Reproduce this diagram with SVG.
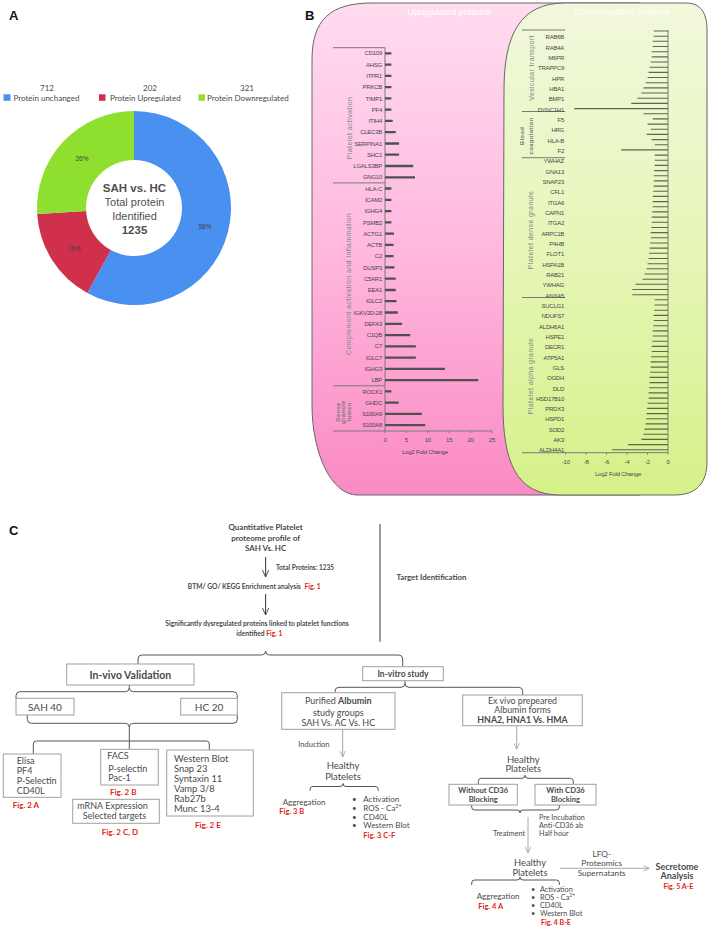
<svg xmlns="http://www.w3.org/2000/svg" width="709" height="928" viewBox="0 0 709 928">
<defs>
<linearGradient id="pinkG" x1="0" y1="0" x2="0" y2="1">
<stop offset="0" stop-color="#ffdcf0"/><stop offset="0.5" stop-color="#ffb8de"/><stop offset="1" stop-color="#fa8ac3"/>
</linearGradient>
<linearGradient id="greenG" x1="0" y1="0" x2="0" y2="1">
<stop offset="0" stop-color="#f1f8dc"/><stop offset="0.5" stop-color="#e6f6b8"/><stop offset="1" stop-color="#d5f188"/>
</linearGradient>
<marker id="ahD" viewBox="0 0 10 10" refX="10" refY="5" markerWidth="7" markerHeight="7" orient="auto" markerUnits="userSpaceOnUse">
<path d="M0,0.5 L10,5 L0,9.5" fill="none" stroke="#444" stroke-width="1.3"/>
</marker>
<marker id="ahL" viewBox="0 0 10 10" refX="10" refY="5" markerWidth="6" markerHeight="6" orient="auto" markerUnits="userSpaceOnUse">
<path d="M0,0.5 L10,5 L0,9.5" fill="none" stroke="#a0a0a0" stroke-width="1.3"/>
</marker>
<style>
.pl{font-family:"Liberation Sans",Arial,sans-serif;font-size:13px;font-weight:bold;fill:#111}
.leg{font-family:Lato,"Liberation Sans",sans-serif;font-size:8px;fill:#4a4a4a}
.pct{font-family:"Liberation Sans",sans-serif;font-size:6.5px;fill:#444;text-anchor:middle}
.ctr{font-family:"Liberation Sans",sans-serif;fill:#505050;text-anchor:middle}
.lbl{font-family:"Liberation Sans",sans-serif;font-size:6px;fill:#474747;text-anchor:end;letter-spacing:-0.25px}
.tick{font-family:"Liberation Sans",sans-serif;font-size:6px;fill:#474747;text-anchor:middle;letter-spacing:-0.2px}
.grp{font-family:"Liberation Sans",sans-serif;font-size:7px;fill:#858585;text-anchor:middle;letter-spacing:0.4px}
.grpb{font-family:"Liberation Sans",sans-serif;font-size:6px;font-weight:bold;fill:#7a7a7a;text-anchor:middle;letter-spacing:0.3px}
.ax{stroke:#7a7a7a;stroke-width:1;fill:none}
.ttl{font-family:"Liberation Sans",sans-serif;font-size:9px;fill:#ffffff;text-anchor:middle}
.c{font-family:Lato,"Liberation Sans",sans-serif;fill:#4a4a4a}
.b{font-weight:bold}
.m{text-anchor:middle}
.e{text-anchor:end}
.fig{fill:#e32320;font-weight:bold}
.box{fill:#fff;stroke:#a0a0a0;stroke-width:1}
.br{fill:none;stroke:#555;stroke-width:1}
.arD{fill:none;stroke:#444;stroke-width:1.1}
.arL{fill:none;stroke:#a8a8a8;stroke-width:1}
</style>
</defs>
<rect width="709" height="928" fill="#fff"/>

<!-- Panel A -->
<g id="panelA">
<text class="pl" x="9" y="20">A</text>
<g id="legend">
<text class="leg m" x="47" y="91">712</text>
<rect x="3.5" y="94.3" width="7" height="6.5" fill="#4a90f0"/>
<text class="leg" x="13.5" y="101">Protein unchanged</text>
<text class="leg m" x="150" y="91">202</text>
<rect x="99" y="94.3" width="6.5" height="6.5" fill="#d0304c"/>
<text class="leg" x="110" y="101">Protein Upregulated</text>
<text class="leg m" x="247" y="91">321</text>
<rect x="198.5" y="94.3" width="6.5" height="6.5" fill="#8fe02e"/>
<text class="leg" x="207" y="101">Protein Downregulated</text>
</g>
<g id="donut">
<path d="M134,111 A97,97 0 1,1 87.27,293 L110.87,250.06 A48,48 0 1,0 134,160 Z" fill="#4a90f0"/>
<path d="M87.27,293 A97,97 0 0,1 37.19,214.09 L86.09,211.01 A48,48 0 0,0 110.87,250.06 Z" fill="#d0304c"/>
<path d="M37.19,214.09 A97,97 0 0,1 134,111 L134,160 A48,48 0 0,0 86.09,211.01 Z" fill="#8fe02e"/>
<text class="pct" x="205" y="228.5">58%</text>
<text class="pct" x="74" y="250.5">16%</text>
<text class="pct" x="82" y="161">26%</text>
<text class="ctr" x="134.5" y="191.5" font-size="11.5" font-weight="bold">SAH vs. HC</text>
<text class="ctr" x="134.5" y="205.5" font-size="11">Total protein</text>
<text class="ctr" x="134.5" y="219.5" font-size="11">Identified</text>
<text class="ctr" x="134.5" y="233.5" font-size="11.5" font-weight="bold">1235</text>
</g>
</g>

<!-- Panel B -->
<g id="panelB">
<text class="pl" x="305" y="20">B</text>
<path id="pinkPanel" d="M312,60 C312,20 330,3 372,3 H640 V495 H357 A45,90 0 0 1 312,405 Z" fill="url(#pinkG)" stroke="#666" stroke-width="1"/>
<text class="ttl" x="449" y="15">Upregulated proteins</text>
<path id="greenPanel" d="M504,90 C504,35 520,3 565,3 H686 C700,3 707,12 707,30 V462 C707,482 697,495 675,495 H560 C515,495 503,460 503,405 Z" fill="url(#greenG)" stroke="#666" stroke-width="1"/>
<text class="ttl" x="622" y="15">Downregulated proteins</text>

<g id="upChart">
<path class="ax" d="M385,47.7V431 M333,47.7H385 M333,182.9H385 M333,385.8H385 M333,431H492 M385,431v2 M406.4,431v2 M427.8,431v2 M449.2,431v2 M470.6,431v2 M492,431v2"/>
<path fill="none" stroke="#505050" stroke-width="2.3" d="M385,53.3H391.4M385,64.6H391.4M385,75.8H391.4M385,87.1H391.4M385,98.4H391.4M385,109.7H391.4M385,120.9H392.7M385,132.2H395.7M385,143.5H399.1M385,154.7H399.1M385,166H413.2M385,177.3H415M385,188.5H391.4M385,199.8H391.4M385,211.1H391.4M385,222.4H391.4M385,233.6H394M385,244.9H393.6M385,256.2H393.6M385,267.4H394.4M385,278.7H395.7M385,290H395.7M385,301.2H396.6M385,312.5H397.8M385,323.8H402.1M385,335.1H410.3M385,346.3H415.8M385,357.6H415.8M385,368.9H444.9M385,380.1H478.3M385,391.4H391.4M385,402.7H398.7M385,413.9H421.8M385,425.2H425.2"/>
<text class="lbl" x="382" y="55.4">CD109</text>
<text class="lbl" x="382" y="66.7">AHSG</text>
<text class="lbl" x="382" y="77.9">ITPR1</text>
<text class="lbl" x="382" y="89.2">PRKCB</text>
<text class="lbl" x="382" y="100.5">TIMP1</text>
<text class="lbl" x="382" y="111.8">PF4</text>
<text class="lbl" x="382" y="123">ITIH4</text>
<text class="lbl" x="382" y="134.3">CLEC3B</text>
<text class="lbl" x="382" y="145.6">SERPINA1</text>
<text class="lbl" x="382" y="156.8">SHC1</text>
<text class="lbl" x="382" y="168.1">LGALS3BP</text>
<text class="lbl" x="382" y="179.4">GNG10</text>
<text class="lbl" x="382" y="190.6">HLA-C</text>
<text class="lbl" x="382" y="201.9">ICAM2</text>
<text class="lbl" x="382" y="213.2">IGHG4</text>
<text class="lbl" x="382" y="224.5">PSMB2</text>
<text class="lbl" x="382" y="235.7">ACTG1</text>
<text class="lbl" x="382" y="247">ACTB</text>
<text class="lbl" x="382" y="258.3">C2</text>
<text class="lbl" x="382" y="269.5">DUSP3</text>
<text class="lbl" x="382" y="280.8">C5AR1</text>
<text class="lbl" x="382" y="292.1">EEA1</text>
<text class="lbl" x="382" y="303.3">IGLC2</text>
<text class="lbl" x="382" y="314.6">IGKV2D-28</text>
<text class="lbl" x="382" y="325.9">DEFA3</text>
<text class="lbl" x="382" y="337.2">C1QB</text>
<text class="lbl" x="382" y="348.4">C7</text>
<text class="lbl" x="382" y="359.7">IGLC7</text>
<text class="lbl" x="382" y="371">IGHG3</text>
<text class="lbl" x="382" y="382.2">LBP</text>
<text class="lbl" x="382" y="393.5">ROCK1</text>
<text class="lbl" x="382" y="404.8">GHDC</text>
<text class="lbl" x="382" y="416">S100A9</text>
<text class="lbl" x="382" y="427.3">S100A8</text>
<text class="grp" transform="translate(351.5,128) rotate(-90)">Platelet activation</text>
<text class="grp" transform="translate(350.5,284) rotate(-90)">Complement activation and Inflammation</text>
<text class="grpb" transform="translate(339.5,412) rotate(-90)">Dense</text>
<text class="grpb" transform="translate(345,412) rotate(-90)">granule</text>
<text class="grpb" transform="translate(350.5,412) rotate(-90)">lumen</text>
<text class="tick" x="385" y="442">0</text>
<text class="tick" x="406.4" y="442">5</text>
<text class="tick" x="427.8" y="442">10</text>
<text class="tick" x="449.2" y="442">15</text>
<text class="tick" x="470.6" y="442">20</text>
<text class="tick" x="492" y="442">25</text>
<text class="tick" x="425" y="454">Log2 Fold Change</text>
</g>

<g id="downChart">
<path class="ax" d="M668,30V452.7 M522,30H565 M522,111.5H565 M522,157.7H565 M522,297.5H565 M522,452.7H668 M565.8,452.7v2 M586.2,452.7v2 M606.6,452.7v2 M627,452.7v2 M647.4,452.7v2 M668,452.7v2"/>
<path fill="none" stroke="#5d6652" stroke-width="1.1" d="M668,31H653.7M668,36.2H653.7M668,41.3H652.7M668,46.5H652.7M668,51.7H651.7M668,56.9H651.7M668,62H650.7M668,67.2H649.6M668,72.4H648.6M668,77.5H647.6M668,82.7H645.6M668,87.9H643.5M668,93H641.5M668,98.2H637.4M668,103.4H631.3M668,108.6H574.2M668,113.7H643.5M668,118.9H652.7M668,124.1H647.6M668,129.2H650.7M668,134.4H646.6M668,139.6H651.7M668,144.7H654.7M668,149.9H621.1M668,155.1H654.7M668,160.3H654.7M668,165.4H654.7M668,170.6H654.2M668,175.8H653.7M668,180.9H653.7M668,186.1H653.7M668,191.3H653.2M668,196.4H652.7M668,201.6H652.7M668,206.8H652.7M668,211.9H652.2M668,217.1H651.7M668,222.3H651.7M668,227.5H651.2M668,232.6H650.7M668,237.8H650.7M668,243H650.2M668,248.1H649.6M668,253.3H649.1M668,258.5H648.6M668,263.7H647.6M668,268.8H646.6M668,274H644.5M668,279.2H642.5M668,284.3H635.4M668,289.5H632.3M668,294.7H632.3M668,299.8H654.7M668,305H654.7M668,310.2H654.2M668,315.4H653.7M668,320.5H653.7M668,325.7H653.2M668,330.9H652.7M668,336H652.7M668,341.2H652.2M668,346.4H651.7M668,351.5H651.7M668,356.7H651.2M668,361.9H650.7M668,367.1H650.7M668,372.2H650.2M668,377.4H649.6M668,382.6H649.6M668,387.7H649.1M668,392.9H648.6M668,398.1H648.6M668,403.2H647.6M668,408.4H647.1M668,413.6H646.6M668,418.8H646.1M668,423.9H645.6M668,429.1H644.5M668,434.3H643.5M668,439.4H641.5M668,444.6H628.2M668,449.8H611.9"/>
<text class="lbl" x="564" y="39.4">RAB6B</text>
<text class="lbl" x="564" y="49.7">RAB4A</text>
<text class="lbl" x="564" y="60.1">M6PR</text>
<text class="lbl" x="564" y="70.4">TRAPPC9</text>
<text class="lbl" x="564" y="80.7">HPR</text>
<text class="lbl" x="564" y="91">HBA1</text>
<text class="lbl" x="564" y="101.4">BMP1</text>
<text class="lbl" x="564" y="111.7">DYNC1H1</text>
<text class="lbl" x="564" y="122">F5</text>
<text class="lbl" x="564" y="132.3">HRG</text>
<text class="lbl" x="564" y="142.7">HLA-B</text>
<text class="lbl" x="564" y="153">F2</text>
<text class="lbl" x="564" y="163.3">YWHAZ</text>
<text class="lbl" x="564" y="173.6">GNA13</text>
<text class="lbl" x="564" y="184">SNAP23</text>
<text class="lbl" x="564" y="194.3">CFL1</text>
<text class="lbl" x="564" y="204.6">ITGA6</text>
<text class="lbl" x="564" y="214.9">CAPN1</text>
<text class="lbl" x="564" y="225.3">ITGA2</text>
<text class="lbl" x="564" y="235.6">ARPC1B</text>
<text class="lbl" x="564" y="245.9">P4HB</text>
<text class="lbl" x="564" y="256.2">FLOT1</text>
<text class="lbl" x="564" y="266.6">HSPA1B</text>
<text class="lbl" x="564" y="276.9">RAB21</text>
<text class="lbl" x="564" y="287.2">YWHAG</text>
<text class="lbl" x="564" y="297.5">ANXA5</text>
<text class="lbl" x="564" y="307.9">SUCLG1</text>
<text class="lbl" x="564" y="318.2">NDUFS7</text>
<text class="lbl" x="564" y="328.5">ALDH6A1</text>
<text class="lbl" x="564" y="338.8">HSPE1</text>
<text class="lbl" x="564" y="349.2">DECR1</text>
<text class="lbl" x="564" y="359.5">ATP5A1</text>
<text class="lbl" x="564" y="369.8">GLS</text>
<text class="lbl" x="564" y="380.1">OGDH</text>
<text class="lbl" x="564" y="390.5">DLD</text>
<text class="lbl" x="564" y="400.8">HSD17B10</text>
<text class="lbl" x="564" y="411.1">PRDX3</text>
<text class="lbl" x="564" y="421.4">HSPD1</text>
<text class="lbl" x="564" y="431.8">SOD2</text>
<text class="lbl" x="564" y="442.1">AK3</text>
<text class="lbl" x="564" y="452.4">ALDH4A1</text>
<text class="grp" transform="translate(533.5,68) rotate(-90)">Vesicular transport</text>
<text class="grpb" transform="translate(524,136) rotate(-90)">Blood</text>
<text class="grpb" transform="translate(532.5,136) rotate(-90)">coagulation</text>
<text class="grp" transform="translate(533,230) rotate(-90)">Platelet dense granule</text>
<text class="grp" transform="translate(533,376) rotate(-90)">Platelet alpha granule</text>
<text class="tick" x="565.8" y="464">-10</text>
<text class="tick" x="586.2" y="464">-8</text>
<text class="tick" x="606.6" y="464">-6</text>
<text class="tick" x="627" y="464">-4</text>
<text class="tick" x="647.4" y="464">-2</text>
<text class="tick" x="668" y="464">0</text>
<text class="tick" x="618" y="475.5">Log2 Fold Change</text>
</g>
</g>

<!-- Panel C -->
<g id="panelC">
<text class="pl" x="9" y="535">C</text>

<g id="connectors">
<line class="arD" x1="265.6" y1="557" x2="265.6" y2="577" marker-end="url(#ahD)"/>
<line class="arD" x1="265.6" y1="594" x2="265.6" y2="615" marker-end="url(#ahD)"/>
<line x1="380" y1="524" x2="380" y2="641.7" stroke="#666" stroke-width="1.3"/>
<path class="br" d="M138,664 V659 Q138,655 142,655 H261.6 Q265.6,655 265.6,651 Q265.6,655 269.6,655 H398.7 Q402.7,655 402.7,659 V666.7"/>
<path class="br" d="M16,698.3 V695.7 Q16,691.7 20,691.7 H125.3 Q129.3,691.7 129.3,687.7 V685 M129.3,687.7 Q129.3,691.7 133.3,691.7 H233.3 Q237.3,691.7 237.3,695.7 V698.3"/>
<path class="br" d="M27.3,715 V719.3 Q27.3,723.3 31.3,723.3 H125.3 Q129.3,723.3 129.3,727.3 Q129.3,723.3 133.3,723.3 H233.3 Q237.3,723.3 237.3,719.3 V715 M129.3,727.3 V749.3 M33.3,754 V744 Q33.3,741 36.3,741 H206.3 Q209.3,741 209.3,744 V750"/>
<path class="br" d="M335,692.7 V691.3 Q335,687.3 339,687.3 H401 Q405,687.3 405,683.3 V680.7 M405,683.3 Q405,687.3 409,687.3 H518.7 Q522.7,687.3 522.7,691.3 V695"/>
<line class="arL" x1="342.7" y1="729.3" x2="342.7" y2="757" marker-end="url(#ahL)"/>
<path class="br" d="M310,791 V789.5 Q310,786.5 313,786.5 H340 Q343,786.5 343,783.5 Q343,786.5 346,786.5 H375.3 Q378.3,786.5 378.3,789.5 V791"/>
<line class="arL" x1="516.7" y1="725.7" x2="516.7" y2="749.3" marker-end="url(#ahL)"/>
<path class="br" d="M478.3,784.3 V781.3 Q478.3,778.3 481.3,778.3 H522 Q525,778.3 525,775.3 Q525,778.3 528,778.3 H570.3 Q573.3,778.3 573.3,781.3 V784.3"/>
<path class="br" d="M471.7,805 V807 Q471.7,810 474.7,810 H517 Q520,810 520,813 Q520,810 523,810 H556.3 Q559.3,810 559.3,807 V805"/>
<line class="arL" x1="528" y1="817" x2="528" y2="853" marker-end="url(#ahL)"/>
<line class="arL" x1="560" y1="868.3" x2="649.3" y2="868.3" marker-end="url(#ahL)"/>
<path class="br" d="M471.7,885 V883 Q471.7,880 474.7,880 H517 Q520,880 520,877 Q520,880 523,880 H556.3 Q559.3,880 559.3,883 V885"/>
</g>

<g id="n-top">
<text class="c b m" font-size="8" x="265.6" y="530">Quantitative Platelet</text>
<text class="c b m" font-size="8" x="265.6" y="540.5">proteome profile of</text>
<text class="c b m" font-size="8" x="265.6" y="551">SAH Vs. HC</text>
</g>
<g id="n-total"><text class="c b" font-size="6.5" x="276" y="569.5">Total Proteins: 1235</text></g>
<g id="n-btm"><text class="c b" font-size="6.7" x="187.8" y="589">BTM/ GO/ KEGG Enrichment analysis <tspan class="fig" dx="2">Fig. 1</tspan></text></g>
<g id="n-sig">
<text class="c b m" font-size="6.7" x="257" y="626">Significantly dysregulated proteins linked to platelet functions</text>
<text class="c b m" font-size="6.7" x="259.3" y="635.5">identified <tspan class="fig">Fig. 1</tspan></text>
</g>
<g id="n-target"><text class="c b" font-size="7.8" x="396.4" y="579.5">Target Identification</text></g>

<g id="n-invivo">
<rect class="box" x="66.7" y="664" width="127.3" height="21" stroke="#888" stroke-width="1.3"/>
<text class="c b m" font-size="10.5" fill="#3a3a3a" x="130.3" y="678.5">In-vivo Validation</text>
</g>
<g id="n-sah"><rect class="box" x="16" y="698.3" width="58" height="16.7"/><text class="c m" font-size="10" x="45" y="710.5">SAH 40</text></g>
<g id="n-hc"><rect class="box" x="180.7" y="698.3" width="56.6" height="16.7"/><text class="c m" font-size="10" x="209" y="710.5">HC 20</text></g>
<g id="n-elisa">
<rect class="box" x="3.3" y="754" width="57.7" height="43.3"/>
<text class="c" font-size="9" x="16.7" y="763.5">Elisa</text>
<text class="c" font-size="9" x="16.7" y="773.5">PF4</text>
<text class="c" font-size="9" x="16.7" y="783.5">P-Selectin</text>
<text class="c" font-size="9" x="16.7" y="793.5">CD40L</text>
<text class="c fig" font-size="8" x="12.7" y="807.5">Fig. 2 A</text>
</g>
<g id="n-facs">
<rect class="box" x="100.7" y="749.3" width="57.6" height="35.7"/>
<text class="c" font-size="9" x="107.3" y="758.5">FACS</text>
<text class="c" font-size="9" x="108.3" y="771.5">P-selectin</text>
<text class="c" font-size="9" x="108.3" y="781">Pac-1</text>
<text class="c fig" font-size="8" x="110" y="795">Fig. 2 B</text>
</g>
<g id="n-mrna">
<rect class="box" x="72.7" y="799.3" width="86.6" height="24"/>
<text class="c" font-size="9" x="77.3" y="809">mRNA Expression</text>
<text class="c" font-size="9" x="82.7" y="818.5">Selected targets</text>
<text class="c fig" font-size="8" x="101.7" y="834.5">Fig. 2 C, D</text>
</g>
<g id="n-wb">
<rect class="box" x="166.7" y="750" width="86.6" height="66"/>
<text class="c" font-size="9.4" x="174" y="761.5">Western Blot</text>
<text class="c" font-size="9.4" x="174" y="771.5">Snap 23</text>
<text class="c" font-size="9.4" x="174" y="781.5">Syntaxin 11</text>
<text class="c" font-size="9.4" x="174" y="791.5">Vamp 3/8</text>
<text class="c" font-size="9.4" x="174" y="801.5">Rab27b</text>
<text class="c" font-size="9.4" x="174" y="811.5">Munc 13-4</text>
<text class="c fig" font-size="8" x="195" y="827.5">Fig. 2 E</text>
</g>

<g id="n-invitro">
<rect class="box" x="362.7" y="666.7" width="80.6" height="14" stroke="#888" stroke-width="1.3"/>
<text class="c b m" font-size="8.5" fill="#3a3a3a" x="403" y="677">In-vitro study</text>
</g>
<g id="n-purified">
<rect class="box" x="281.7" y="692.7" width="113.3" height="36.6"/>
<text class="c m" font-size="9" x="338.3" y="704">Purified <tspan class="b">Albumin</tspan></text>
<text class="c m" font-size="9" x="338.3" y="715.5">study groups</text>
<text class="c m" font-size="9" x="338.3" y="726">SAH Vs.  AC Vs. HC</text>
</g>
<g id="n-induction"><text class="c" font-size="7.5" x="298.3" y="746.5">Induction</text></g>
<g id="n-hp1">
<text class="c m" font-size="9.5" x="343" y="768.5">Healthy</text>
<text class="c m" font-size="9.5" x="343" y="779.5">Platelets</text>
</g>
<g id="n-agg1">
<text class="c" font-size="8" x="282.7" y="804.5">Aggregation</text>
<text class="c fig" font-size="7.5" x="279.3" y="813.5">Fig.  3  B</text>
</g>
<g id="n-assay1">
<text class="c" font-size="8" x="352" y="802">•</text><text class="c" font-size="8" x="363.3" y="802">Activation</text>
<text class="c" font-size="8" x="352" y="810.8">•</text><text class="c" font-size="8" x="363.3" y="810.8">ROS - Ca<tspan font-size="5.3" dy="-3">2+</tspan></text>
<text class="c" font-size="8" x="352" y="819.6">•</text><text class="c" font-size="8" x="363.3" y="819.6">CD40L</text>
<text class="c" font-size="8" x="352" y="828.4">•</text><text class="c" font-size="8" x="363.3" y="828.4">Western Blot</text>
<text class="c fig" font-size="7.5" x="363.3" y="837.5">Fig. 3 C-F</text>
</g>
<g id="n-exvivo">
<rect class="box" x="462.7" y="695" width="119.6" height="30.7"/>
<text class="c m" font-size="8.8" x="522.5" y="704">Ex vivo prepeared</text>
<text class="c m" font-size="8.8" x="522.5" y="713.3">Albumin forms</text>
<text class="c b m" font-size="8.8" x="522.5" y="722.6">HNA2,  HNA1 Vs. HMA</text>
</g>
<g id="n-hp2">
<text class="c m" font-size="9.5" x="523.3" y="762.5">Healthy</text>
<text class="c m" font-size="9.5" x="523.3" y="771.8">Platelets</text>
</g>
<g id="n-without">
<rect class="box" x="449" y="784.3" width="68.3" height="20.7"/>
<text class="c b m" font-size="7.6" x="483.2" y="793">Without CD36</text>
<text class="c b m" font-size="7.6" x="483.2" y="801.5">Blocking</text>
</g>
<g id="n-with">
<rect class="box" x="535" y="784.3" width="61" height="20.7"/>
<text class="c b m" font-size="7.6" x="565.5" y="793">With CD36</text>
<text class="c b m" font-size="7.6" x="565.5" y="801.5">Blocking</text>
</g>
<g id="n-treat">
<text class="c" font-size="7.2" x="539" y="819.5">Pre Incubation</text>
<text class="c" font-size="7.2" x="539" y="827.5">Anti-CD36 ab</text>
<text class="c" font-size="7.2" x="539" y="835.5">Half hour</text>
<text class="c e" font-size="7.2" x="525" y="835.5">Treatment</text>
</g>
<g id="n-hp3">
<text class="c m" font-size="9.3" x="530" y="866">Healthy</text>
<text class="c m" font-size="9.3" x="530" y="875.5">Platelets</text>
</g>
<g id="n-lfq">
<text class="c m" font-size="8.3" x="601.7" y="856.5">LFQ-</text>
<text class="c m" font-size="8.3" x="601.7" y="866">Proteomics</text>
<text class="c m" font-size="8.3" x="601.7" y="875.5">Supernatants</text>
</g>
<g id="n-secretome">
<text class="c b m" font-size="9" x="677" y="869.5">Secretome</text>
<text class="c b m" font-size="9" x="677" y="879">Analysis</text>
<text class="c fig m" font-size="7" x="678.3" y="888.5">Fig. 5 A-E</text>
</g>
<g id="n-agg2">
<text class="c" font-size="8" x="476.7" y="898.5">Aggregation</text>
<text class="c fig" font-size="7.5" x="478.3" y="908.5">Fig.  4 A</text>
</g>
<g id="n-assay2">
<text class="c" font-size="7.3" x="531" y="892">•</text><text class="c" font-size="7.3" x="540" y="892">Activation</text>
<text class="c" font-size="7.3" x="531" y="900">•</text><text class="c" font-size="7.3" x="540" y="900">ROS - Ca<tspan font-size="5" dy="-2.6">2+</tspan></text>
<text class="c" font-size="7.3" x="531" y="908">•</text><text class="c" font-size="7.3" x="540" y="908">CD40L</text>
<text class="c" font-size="7.3" x="531" y="916">•</text><text class="c" font-size="7.3" x="540" y="916">Western Blot</text>
<text class="c fig" font-size="7" x="541" y="925">Fig. 4 B-E</text>
</g>
</g>
</svg>
